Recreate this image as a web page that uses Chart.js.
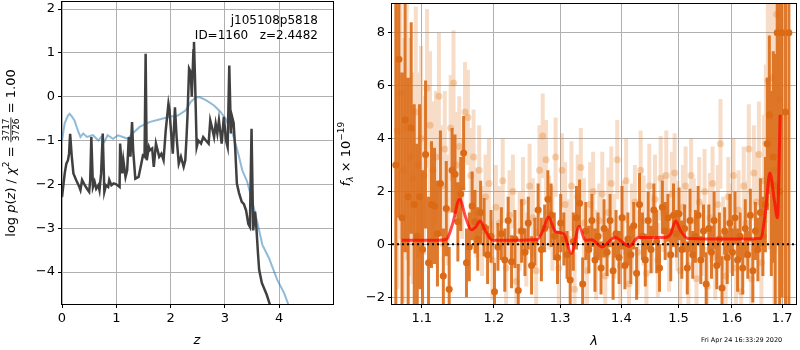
<!DOCTYPE html>
<html>
<head>
<meta charset="utf-8">
<script src="https://cdn.jsdelivr.net/npm/chart.js@4/dist/chart.umd.min.js"></script>
<style>
  body { margin: 0; background: #fff; width: 800px; height: 350px; position: relative; overflow: hidden; }
  #pz { position: absolute; left: 0; top: 0; }
  #sp { position: absolute; left: 330px; top: 0; }
</style>
</head>
<body>
<canvas id="pz" width="340" height="350"></canvas>
<canvas id="sp" width="470" height="350"></canvas>
<script>
// ---- left panel: log p(z) and prior ----
const pzZ = [
  0, 0.05, 0.08, 0.11, 0.13, 0.15, 0.18, 0.21, 0.26, 0.32,
  0.34, 0.37, 0.42, 0.46, 0.50, 0.52, 0.54, 0.57, 0.60, 0.63,
  0.67, 0.69, 0.72, 0.75, 0.78, 0.81, 0.85, 0.87, 0.91, 0.95,
  1.00, 1.06, 1.07, 1.11, 1.13, 1.17, 1.20, 1.23, 1.26, 1.29,
  1.31, 1.35, 1.41, 1.46, 1.49, 1.52, 1.54, 1.56, 1.60, 1.62,
  1.66, 1.69, 1.73, 1.76, 1.79, 1.83, 1.87, 1.91, 1.96, 1.98,
  2.01, 2.04, 2.08, 2.11, 2.15, 2.19, 2.24, 2.27, 2.29, 2.31,
  2.34, 2.37, 2.39, 2.42, 2.43, 2.45, 2.48, 2.51, 2.56, 2.60,
  2.65, 2.70, 2.73, 2.76, 2.80, 2.83, 2.86, 2.89, 2.94, 2.98,
  3.02, 3.05, 3.08, 3.11, 3.13, 3.16, 3.19, 3.22, 3.26, 3.31,
  3.35, 3.39, 3.43, 3.46, 3.49, 3.52, 3.555, 3.58, 3.61, 3.63,
  3.68, 3.77, 3.83
];
const pzLog = [
  -2.29, -1.75, -1.53, -1.45, -1.30, -0.85, -1.37, -1.75, -1.90, -2.06,
  -2.13, -1.90, -2.02, -2.10, -2.17, -1.90, -0.92, -2.06, -1.94, -2.10,
  -2.02, -2.13, -1.75, -0.84, -2.17, -2.02, -2.06, -1.90, -2.02, -1.98,
  -2.00, -2.06, -1.07, -1.75, -1.45, -1.83, -1.68, -0.92, -1.37, -0.58,
  -1.22, -1.87, -1.83, -1.53, -1.34, -1.37, 0.98, -1.45, -1.15, -1.22,
  -1.18, -1.60, -1.07, -1.22, -1.37, -1.30, -1.45, -0.77, -0.16, -0.31,
  -0.84, -1.30, -0.24, -0.92, -1.53, -1.37, -1.60, -1.45, -1.00, -0.46,
  0.64, 0.56, 0.00, 1.06, 1.25, 0.37, -1.15, -1.00, -1.07, -0.92,
  -1.00, -1.07, -0.54, -0.69, -0.92, -0.62, -0.84, -0.54, -1.07, -0.46,
  -1.00, -1.15, 0.71, -0.84, -0.45, -0.60, -1.20, -1.98, -2.20, -2.40,
  -2.45, -2.60, -2.90, -2.97, -0.73, -3.05, -2.62, -3.00, -3.60, -3.95,
  -4.25, -4.52, -4.75
];
const priorZ = [
  0, 0.05, 0.11, 0.14, 0.18, 0.23, 0.30, 0.34, 0.39, 0.46,
  0.57, 0.67, 0.72, 0.78, 0.84, 0.94, 1.03, 1.12, 1.21, 1.30,
  1.43, 1.61, 1.79, 1.98, 2.13, 2.28, 2.37, 2.46, 2.53, 2.65,
  2.80, 2.92, 3.01, 3.14, 3.23, 3.32, 3.41, 3.50, 3.60, 3.69,
  3.81, 3.96, 4.09, 4.20
];
const priorLog = [
  -1.00, -0.60, -0.43, -0.39, -0.45, -0.54, -0.80, -0.92, -0.84, -0.92,
  -0.88, -1.00, -0.92, -1.03, -0.88, -0.96, -0.88, -0.92, -0.96, -0.84,
  -0.69, -0.58, -0.52, -0.46, -0.43, -0.31, -0.12, -0.02, -0.01, -0.08,
  -0.20, -0.35, -0.50, -0.84, -1.22, -1.68, -1.94, -2.36, -2.89, -3.38,
  -3.68, -4.17, -4.48, -4.85
];
const pzXTicks = [0, 1, 2, 3, 4];
const pzYTicks = [-4, -3, -2, -1, 0, 1, 2];

// ---- right panel: spectrum ----
const darkWave = [
  1.066, 1.070, 1.074, 1.078, 1.082, 1.086, 1.090, 1.094, 1.097, 1.101,
  1.105, 1.109, 1.113, 1.117, 1.121, 1.125, 1.129, 1.133, 1.137, 1.141,
  1.145, 1.149, 1.153, 1.157, 1.161, 1.165, 1.169, 1.173, 1.177, 1.181,
  1.186, 1.191, 1.196, 1.201, 1.206, 1.211, 1.216, 1.221, 1.226, 1.231,
  1.236, 1.241, 1.246, 1.251, 1.256, 1.261, 1.266, 1.271, 1.276, 1.281,
  1.286, 1.291, 1.296, 1.301, 1.306, 1.311, 1.316, 1.321, 1.326, 1.331,
  1.336, 1.341, 1.346, 1.351, 1.356, 1.361, 1.366, 1.371, 1.376, 1.381,
  1.386, 1.391, 1.396, 1.401, 1.406, 1.411, 1.416, 1.421, 1.426, 1.431,
  1.436, 1.441, 1.446, 1.451, 1.456, 1.461, 1.466, 1.471, 1.476, 1.481,
  1.486, 1.491, 1.496, 1.501, 1.506, 1.511, 1.516, 1.521, 1.526, 1.531,
  1.536, 1.541, 1.546, 1.551, 1.556, 1.561, 1.566, 1.571, 1.576, 1.581,
  1.586, 1.591, 1.596, 1.601, 1.606, 1.611, 1.616, 1.621, 1.626, 1.631,
  1.636, 1.641, 1.646, 1.651, 1.656, 1.661, 1.666, 1.670, 1.674, 1.678,
  1.682, 1.686, 1.690, 1.695, 1.700, 1.707, 1.714
];
const darkFlux = [
  3.0, 7.0, 1.0, 4.7, 1.8, 4.4, 1.5, 0.3, 1.8, -0.2,
  3.4, -0.7, 1.5, 1.45, 0.4, 2.3, -1.2, 1.35, -1.7, 2.8,
  2.65, 0.85, 1.9, 3.45, -0.7, -0.1, 1.45, 0.85, 0.2, 1.2,
  0.65, -0.4, 0.3, -1.8, -0.1, 0.4, -0.6, 0.9, -0.66, 0.2,
  -1.75, 0.5, -0.3, 0.8, -0.8, 0.1, 1.3, -0.2, 0.6, 1.7,
  1.1, 0.3, -0.5, 0.8, 0.2, -0.4, -1.35, 0.1, 1.0, 1.55,
  -1.5, 0.5, -0.2, 0.9, -0.6, 0.3, -0.9, 0.6, -0.3, 0.9,
  -1.0, 0.4, -0.5, 1.0, -0.8, 0.2, -0.4, 0.7, -1.1, 1.5,
  0.3, -0.6, 0.9, -0.2, 1.3, 0.1, -0.9, 1.4, 0.5, 1.0,
  -0.4, 1.1, 0.4, 1.15, -0.2, 0.6, -0.9, 0.9, -0.4, 0.3,
  1.1, -0.6, 0.5, -1.5, 0.6, -0.3, 0.9, -0.8, 0.2, -1.65,
  0.5, -0.5, 0.8, -0.3, 1.0, -0.6, 0.3, -0.9, 0.6, -0.4,
  1.1, -1.0, 0.5, -0.2, 1.2, 0.3, 1.5, 3.8, 4.9, 2.3,
  3.3, 2.2, 8.0, 2.0, 8.0, 5.0, 8.0
];
const darkErr = [
  8, 6, 5.5, 5, 4.5, 4, 3.8, 3.5, 3.5, 3.0,
  2.8, 2.5, 2.4, 2.2, 2.0, 2.0, 1.8, 1.8, 1.6, 1.6,
  1.5, 1.5, 1.4, 1.4, 1.3, 1.3, 1.3, 1.2, 1.2, 1.2,
  1.1, 1.1, 1.0, 1.1, 0.9, 1.0, 1.2, 0.9, 1.0, 1.1,
  1.0, 1.2, 0.9, 1.0, 1.1, 0.9, 1.0, 1.2, 0.9, 1.1,
  1.2, 0.9, 1.0, 1.1, 1.0, 0.9, 1.0, 1.1, 1.2, 0.9,
  1.0, 1.1, 0.9, 1.0, 1.2, 0.9, 1.0, 1.1, 0.9, 1.0,
  1.1, 0.9, 1.0, 1.2, 0.9, 1.0, 1.1, 0.9, 1.0, 1.2,
  0.9, 1.0, 1.1, 0.9, 1.0, 1.2, 0.9, 1.0, 1.1, 0.9,
  1.0, 1.2, 0.9, 1.0, 1.1, 0.9, 1.0, 1.2, 0.9, 1.0,
  1.1, 0.9, 1.0, 1.2, 0.9, 1.0, 1.1, 0.9, 1.0, 1.2,
  0.9, 1.0, 1.1, 0.9, 1.0, 1.2, 0.9, 1.0, 1.1, 0.9,
  1.0, 1.2, 1.1, 1.2, 1.3, 1.5, 1.8, 2.5, 3.0, 3.5,
  4, 5, 8, 9, 10, 12, 12
];
const lightWave = [
  1.068, 1.072, 1.076, 1.080, 1.084, 1.088, 1.092, 1.095, 1.099, 1.103,
  1.107, 1.111, 1.115, 1.119, 1.123, 1.127, 1.131, 1.135, 1.139, 1.143,
  1.147, 1.151, 1.155, 1.159, 1.163, 1.167, 1.171, 1.175, 1.179, 1.183,
  1.188, 1.193, 1.198, 1.203, 1.208, 1.213, 1.218, 1.223, 1.228, 1.233,
  1.238, 1.243, 1.248, 1.253, 1.258, 1.263, 1.268, 1.273, 1.278, 1.283,
  1.288, 1.293, 1.298, 1.303, 1.308, 1.313, 1.318, 1.323, 1.328, 1.333,
  1.338, 1.343, 1.348, 1.353, 1.358, 1.363, 1.368, 1.373, 1.378, 1.383,
  1.388, 1.393, 1.398, 1.403, 1.408, 1.413, 1.418, 1.423, 1.428, 1.433,
  1.438, 1.443, 1.448, 1.453, 1.458, 1.463, 1.468, 1.473, 1.478, 1.483,
  1.488, 1.493, 1.498, 1.503, 1.508, 1.513, 1.518, 1.523, 1.528, 1.533,
  1.538, 1.543, 1.548, 1.553, 1.558, 1.563, 1.568, 1.573, 1.578, 1.583,
  1.588, 1.593, 1.598, 1.603, 1.608, 1.613, 1.618, 1.623, 1.628, 1.633,
  1.638, 1.643, 1.648, 1.653, 1.658, 1.663, 1.667, 1.671, 1.675, 1.679,
  1.684, 1.689, 1.694
];
const lightFlux = [
  4.3, 5.7, 2.8, 4.4, 3.3, 2.5, 5.0, 3.0, 4.0, 2.6,
  5.9, 4.5, 2.8, 3.3, 5.6, 2.2, 3.6, 1.3, 4.4, 6.1,
  3.0, 3.7, 2.1, 5.0, 4.8, 2.6, 3.3, 1.2, 2.8, 0.5,
  1.8, 2.3, -0.6, 1.4, 0.8, 2.4, -0.9, 1.1, 2.0, -1.4,
  0.5, 1.6, -0.2, 2.2, 1.0, -1.0, 2.8, 4.1, 3.2, 1.2,
  0.6, 3.3, -0.9, 2.8, 1.5, 0.2, 2.2, -1.7, 1.8, 2.9,
  0.8, -1.0, 1.5, 2.0, -0.4, 0.9, 1.9, -1.2, 1.2, 2.3,
  0.3, 3.2, -0.8, 1.0, 2.4, -1.5, 0.6, 1.6, -0.3, 2.8,
  0.9, -1.1, 2.2, 0.4, 1.7, -0.6, 2.5, 1.2, 2.6, -0.4,
  1.9, 2.7, 0.7, -1.0, 1.4, 2.2, -0.8, 2.6, 0.9, -1.3,
  1.6, 0.2, 2.0, -1.6, 1.0, 2.3, -0.5, 1.5, 3.8, 0.4,
  -1.2, 1.8, 0.6, 2.6, -0.9, 1.3, -1.8, 2.2, 0.8, 3.6,
  -1.3, 2.7, 1.6, 3.4, -0.7, 2.4, 3.8, 6.2, 4.8, 6.3,
  2.8, 8.7, 5.5
];
const lightErr = [
  6, 5.5, 5, 5, 4.5, 4, 4, 3.5, 3.5, 3,
  3, 2.8, 2.6, 2.5, 2.4, 2.3, 2.2, 2.1, 2.0, 2.0,
  2.0, 1.9, 1.9, 1.9, 1.8, 1.8, 1.8, 1.7, 1.7, 1.7,
  1.6, 1.7, 1.5, 1.6, 1.4, 1.6, 1.5, 1.7, 1.4, 1.6,
  1.5, 1.7, 1.4, 1.6, 1.5, 1.6, 1.7, 1.6, 1.5, 1.4,
  1.6, 1.5, 1.7, 1.4, 1.6, 1.5, 1.7, 1.4, 1.6, 1.5,
  1.7, 1.4, 1.6, 1.5, 1.7, 1.4, 1.6, 1.5, 1.7, 1.4,
  1.6, 1.5, 1.7, 1.4, 1.6, 1.5, 1.7, 1.4, 1.6, 1.5,
  1.7, 1.4, 1.6, 1.5, 1.7, 1.4, 1.6, 1.5, 1.7, 1.4,
  1.6, 1.5, 1.7, 1.4, 1.6, 1.5, 1.7, 1.4, 1.6, 1.5,
  1.7, 1.4, 1.6, 1.5, 1.7, 1.4, 1.6, 1.5, 1.7, 1.4,
  1.6, 1.5, 1.7, 1.4, 1.6, 1.5, 1.7, 1.5, 1.6, 1.7,
  1.7, 1.8, 1.9, 2.0, 2.2, 2.5, 3, 4, 5, 6,
  7, 9, 10
];
const modelWave = [
  1.0735, 1.120, 1.133, 1.142, 1.1513, 1.160, 1.1676, 1.174, 1.1802, 1.188,
  1.1982, 1.230, 1.2647, 1.274, 1.2818, 1.2927, 1.3058, 1.3178, 1.3305, 1.3402,
  1.3510, 1.3671, 1.3892, 1.4133, 1.4289, 1.4762, 1.486, 1.4947, 1.504, 1.5168,
  1.60, 1.6563, 1.666, 1.6751, 1.6846, 1.6904, 1.6960
];
const modelFlux = [
  0.15, 0.15, 0.18, 0.80, 1.70, 1.00, 0.55, 0.65, 0.88, 0.50,
  0.15, 0.15, 0.18, 0.55, 1.03, 0.48, 0.40, -0.35, 0.68, 0.15,
  0.17, -0.10, 0.26, -0.08, 0.26, 0.26, 0.40, 0.88, 0.50, 0.22,
  0.20, 0.22, 1.20, 2.70, 1.60, 1.00, 4.90
];
const specXTicks = [1.1, 1.2, 1.3, 1.4, 1.5, 1.6, 1.7];
const specYTicks = [-2, 0, 2, 4, 6, 8];

Chart.defaults.font.family = 'DejaVu Sans';
Chart.defaults.color = '#000';

const FONT = 'DejaVu Sans';
const minus = v => String(v).replace('-', '\u2212');

function points(xs, ys) {
  return xs.map((x, i) => ({ x: x, y: ys[i] }));
}

// vertical error bar segments, broken by null gaps
function errSegments(xs, ys, es) {
  const out = [];
  xs.forEach((x, i) => {
    out.push({ x: x, y: ys[i] - es[i] }, { x: x, y: ys[i] + es[i] }, { x: x, y: null });
  });
  return out;
}

// draws a run of text pieces side by side starting at x
function drawRuns(ctx, runs, x, y) {
  runs.forEach(r => {
    ctx.font = r.f;
    ctx.fillText(r.t, x, y + (r.dy || 0));
    x += ctx.measureText(r.t).width;
  });
  return x;
}
function runsWidth(ctx, runs) {
  let w = 0;
  runs.forEach(r => { ctx.font = r.f; w += ctx.measureText(r.t).width; });
  return w;
}

const framePlugin = {
  id: 'frame',
  afterDraw(chart) {
    const { ctx, chartArea: a } = chart;
    ctx.save();
    ctx.strokeStyle = '#000';
    ctx.lineWidth = 1;
    ctx.strokeRect(Math.round(a.left) - 0.5, Math.round(a.top) - 0.5,
      Math.round(a.right - a.left) + 1, Math.round(a.bottom - a.top) + 1);
    ctx.restore();
  }
};

function axisOpts(min, max, ticks, fmt, size) {
  return {
    min: min, max: max,
    afterBuildTicks: s => { s.ticks = ticks.map(v => ({ value: v })); },
    afterFit: s => {
      if (s.isHorizontal()) s.height = size; else s.width = size;
      // labels may spill past the plot edge, like matplotlib
      s.paddingTop = 0; s.paddingBottom = 0; s.paddingLeft = 0; s.paddingRight = 0;
    },
    grid: { color: '#b0b0b0', lineWidth: 1, tickColor: '#000', tickLength: 4 },
    border: { display: false },
    ticks: { color: '#000', font: { size: 13 }, padding: 3, autoSkip: false, maxRotation: 0, callback: fmt }
  };
}

const n13 = '13px ' + FONT, i13 = 'italic 13px ' + FONT;

const pzText = {
  id: 'pzText',
  afterDraw(chart) {
    const ctx = chart.ctx, a = chart.chartArea;
    ctx.save();
    ctx.fillStyle = '#000';
    // label in the corner
    ctx.font = '12px ' + FONT;
    ctx.textAlign = 'right';
    ctx.fillText('j105108p5818', 318, 24);
    ctx.fillText('ID=1160   z=2.4482', 318, 39);
    ctx.textAlign = 'left';
    // x title
    ctx.font = i13;
    ctx.textAlign = 'center';
    ctx.fillText('z', 197, 344);
    ctx.textAlign = 'left';
    // y title with fraction
    const pre = [
      { t: 'log ', f: n13 }, { t: 'p', f: i13 }, { t: '(', f: n13 }, { t: 'z', f: i13 },
      { t: ') / ', f: n13 }, { t: '\u03c7', f: i13 }, { t: '2', f: '9px ' + FONT, dy: -6 }, { t: ' = ', f: n13 }
    ];
    const post = [{ t: ' = 1.00', f: n13 }];
    ctx.font = '9px ' + FONT;
    const fw = Math.max(ctx.measureText('3717').width, ctx.measureText('3726').width) + 2;
    const total = runsWidth(ctx, pre) + fw + runsWidth(ctx, post);
    ctx.translate(15, (a.top + a.bottom) / 2);
    ctx.rotate(-Math.PI / 2);
    let x = -total / 2;
    x = drawRuns(ctx, pre, x, 0);
    ctx.font = '9px ' + FONT;
    ctx.textAlign = 'center';
    ctx.fillText('3717', x + fw / 2, -6);
    ctx.fillText('3726', x + fw / 2, 4);
    ctx.fillRect(x, -4.5, fw, 0.8);
    ctx.textAlign = 'left';
    drawRuns(ctx, post, x + fw, 0);
    ctx.restore();
  }
};

const spText = {
  id: 'spText',
  afterDraw(chart) {
    const ctx = chart.ctx, a = chart.chartArea;
    ctx.save();
    ctx.fillStyle = '#000';
    ctx.font = i13;
    ctx.textAlign = 'center';
    ctx.fillText('\u03bb', 264, 345);
    ctx.textAlign = 'left';
    ctx.font = '6.5px ' + FONT;
    ctx.fillText('Fri Apr 24 16:33:29 2020', 371, 342);
    const runs = [
      { t: 'f', f: i13 }, { t: '\u03bb', f: 'italic 9px ' + FONT, dy: 3 },
      { t: ' \u00d7 10', f: n13 }, { t: '\u221219', f: '9px ' + FONT, dy: -6 }
    ];
    const total = runsWidth(ctx, runs);
    ctx.translate(20, (a.top + a.bottom) / 2);
    ctx.rotate(-Math.PI / 2);
    drawRuns(ctx, runs, -total / 2, 0);
    ctx.restore();
  }
};

new Chart(document.getElementById('pz'), {
  type: 'scatter',
  data: {
    datasets: [
      { data: points(pzZ, pzLog), showLine: true, borderColor: '#404040', borderWidth: 2.5,
        pointRadius: 0, order: 1 },
      { data: points(priorZ, priorLog), showLine: true, borderColor: 'rgba(31,119,180,0.5)', borderWidth: 2,
        pointRadius: 0, order: 2 }
    ]
  },
  options: {
    responsive: false, animation: false, events: [],
    layout: { padding: { left: 0, right: 7, top: 2, bottom: 0 } },
    plugins: { legend: { display: false }, tooltip: { enabled: false } },
    scales: {
      x: Object.assign({ type: 'linear' }, axisOpts(0, 4.99, pzXTicks, v => minus(v), 46)),
      y: Object.assign({ type: 'linear' }, axisOpts(-4.73, 2.16, pzYTicks, v => minus(v), 62))
    }
  },
  plugins: [framePlugin, pzText]
});

const xMin = 1.0611, xMax = 1.7288;

new Chart(document.getElementById('sp'), {
  type: 'scatter',
  data: {
    datasets: [
      { data: errSegments(lightWave, lightFlux, lightErr), showLine: true, spanGaps: false,
        borderColor: 'rgba(224,118,30,0.25)', borderWidth: 4, pointRadius: 0, order: 6 },
      { data: points(lightWave, lightFlux), pointRadius: 3.5, pointBorderWidth: 0,
        backgroundColor: 'rgba(224,118,30,0.3)', borderColor: 'rgba(0,0,0,0)', order: 5 },
      { data: errSegments(darkWave, darkFlux, darkErr), showLine: true, spanGaps: false,
        borderColor: 'rgba(219,106,22,0.9)', borderWidth: 3, pointRadius: 0, order: 4 },
      { data: points(darkWave, darkFlux), pointRadius: 3.5, pointBorderWidth: 0,
        backgroundColor: 'rgb(219,106,22)', borderColor: 'rgba(0,0,0,0)', order: 3 },
      { data: [{ x: xMin, y: 0 }, { x: xMax, y: 0 }], showLine: true, borderColor: '#000',
        borderWidth: 2, borderDash: [2, 3], pointRadius: 0, order: 2 },
      { data: points(modelWave, modelFlux), showLine: true, borderColor: 'rgba(255,0,0,0.7)',
        borderWidth: 3, cubicInterpolationMode: 'monotone', pointRadius: 0, order: 1 }
    ]
  },
  options: {
    responsive: false, animation: false, events: [],
    layout: { padding: { left: 0, right: 1, top: 2, bottom: 0 } },
    plugins: { legend: { display: false }, tooltip: { enabled: false } },
    scales: {
      x: Object.assign({ type: 'logarithmic' }, axisOpts(xMin, xMax, specXTicks, v => Number(v).toFixed(1), 46)),
      y: Object.assign({ type: 'linear' }, axisOpts(-2.26, 9.09, specYTicks, v => minus(v), 62))
    }
  },
  plugins: [framePlugin, spText]
});
</script>
</body>
</html>
